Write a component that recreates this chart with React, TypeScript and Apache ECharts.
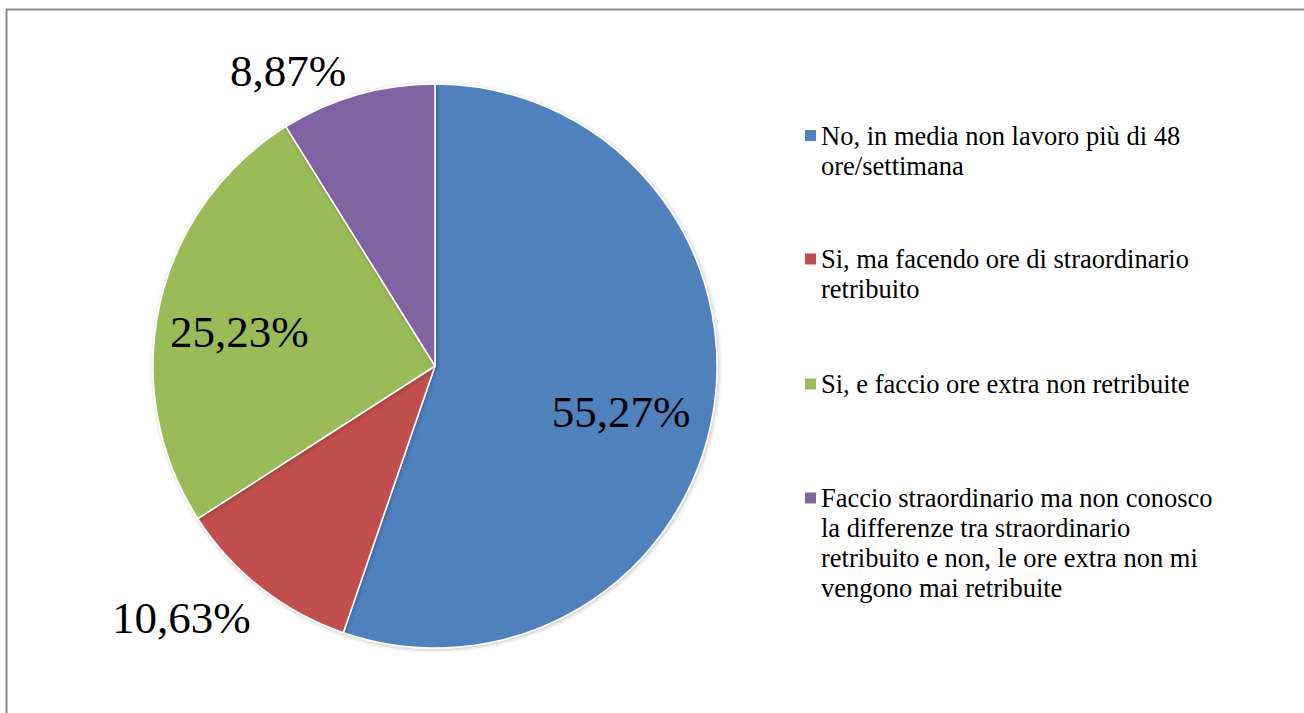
import React, { useEffect, useRef } from 'react';
import * as echarts from 'echarts';

// ---- data ----
const categories = [
  'No, in media non lavoro più di 48 ore/settimana',
  'Si, ma facendo ore di straordinario retribuito',
  'Si, e faccio ore extra non retribuite',
  'Faccio straordinario ma non conosco la differenze tra straordinario retribuito e non, le ore extra non mi vengono mai retribuite',
];
const values = [55.27, 10.63, 25.23, 8.87];
const legendLines = [
  ['No, in media non lavoro più di 48', 'ore/settimana'],
  ['Si, ma facendo ore di straordinario', 'retribuito'],
  ['Si, e faccio ore extra non retribuite'],
  ['Faccio straordinario ma non conosco', 'la differenze tra straordinario', 'retribuito e non, le ore extra non mi', 'vengono mai retribuite'],
];
const labelInside = [true, false, true, false];

// ---- styles / layout ----
const COLORS = ['#4F81BD', '#C0504D', '#9BBB59', '#8064A2'];
const FONT = 'Liberation Serif';
const LEGEND_LH = 30;
const LEGEND_ICON_CENTERS = [135.5, 259, 384, 498];
const LABEL_NUDGE = [
  [44, 22],
  [4, 18],
  [-55, -2],
  [-2, -9],
];

export default function App() {
  const ref = useRef<HTMLDivElement>(null);

  useEffect(() => {
    if (!ref.current) return;
    const chart = echarts.init(ref.current, undefined, { renderer: 'svg' });

    const legends = categories.map((name, i) => {
      const n = legendLines[i].length;
      const outer = (2 * n - 1) * LEGEND_LH;
      return {
        show: true,
        orient: 'vertical' as const,
        left: 805,
        top: LEGEND_ICON_CENTERS[i] - outer / 2,
        padding: 0,
        data: [name],
        icon: 'rect',
        itemWidth: 11,
        itemHeight: 11,
        selectedMode: false,
        itemStyle: { borderWidth: 0 },
        formatter: (nm: string) => {
          const lines = legendLines[categories.indexOf(nm)];
          return '\n'.repeat(lines.length - 1) + lines.join('\n');
        },
        textStyle: {
          fontFamily: FONT,
          fontSize: 26.5,
          lineHeight: LEGEND_LH,
          color: '#000',
        },
      };
    });

    chart.setOption({
      animation: false,
      backgroundColor: '#fff',
      color: COLORS,
      graphic: [
        {
          type: 'rect',
          shape: { x: 6.5, y: 9.5, width: 1400, height: 800 },
          style: { fill: 'none', stroke: '#8a8a8a', lineWidth: 2 },
          silent: true,
        },
      ],
      legend: legends,
      series: [
        {
          type: 'pie',
          center: [435, 366],
          radius: [0, 282],
          startAngle: 90,
          clockwise: true,
          avoidLabelOverlap: false,
          silent: true,
          itemStyle: {
            borderColor: '#fff',
            borderWidth: 1.5,
            shadowBlur: 4,
            shadowOffsetX: 1,
            shadowOffsetY: 1,
            shadowColor: 'rgba(0,0,0,0.25)',
          },
          label: {
            show: true,
            position: 'outside',
            fontFamily: FONT,
            fontSize: 45,
            color: '#000',
            formatter: (p: any) => p.value.toFixed(2).replace('.', ',') + '%',
          },
          labelLine: { show: false, length: 15, length2: 0 },
          labelLayout: (p: any) => {
            const o = LABEL_NUDGE[p.dataIndex];
            return { dx: o[0], dy: o[1] };
          },
          data: categories.map((name, i) => ({
            name,
            value: values[i],
            label: labelInside[i] ? { position: 'inside' } : undefined,
          })),
        },
      ],
    });

    return () => chart.dispose();
  }, []);

  return (
    <div
      ref={ref}
      style={{ position: 'fixed', left: 0, top: 0, width: 1304, height: 713 }}
    />
  );
}
